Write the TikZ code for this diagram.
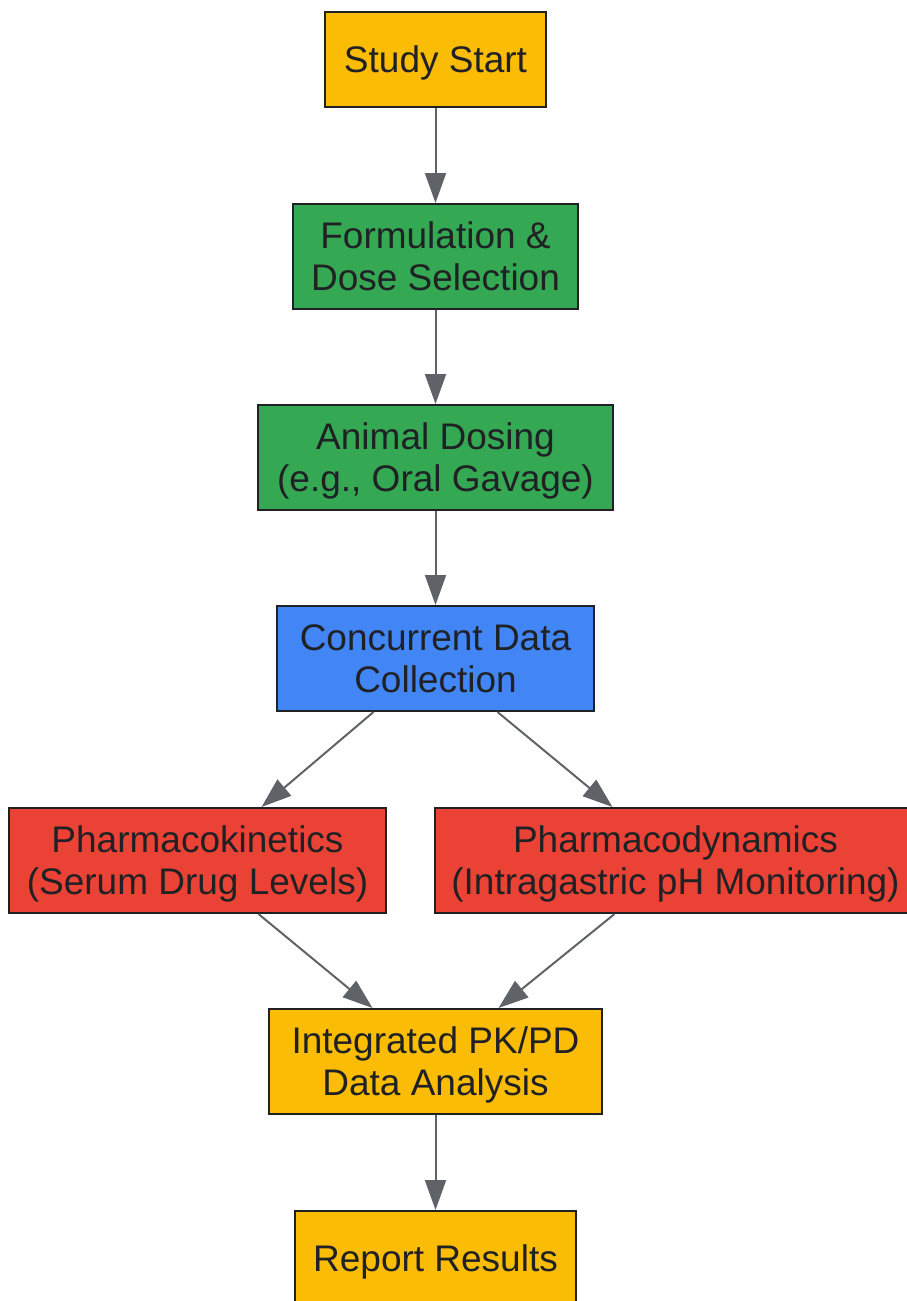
\documentclass[tikz,border=0pt]{standalone}
\usepackage{fontspec}
\setmainfont{Liberation Sans}
\usetikzlibrary{arrows.meta}
\definecolor{gyellow}{HTML}{FBBC05}
\definecolor{ggreen}{HTML}{34A853}
\definecolor{gblue}{HTML}{4285F4}
\definecolor{gred}{HTML}{EA4335}
\definecolor{edgegray}{HTML}{5F6368}
\definecolor{inkdark}{HTML}{202124}
\begin{document}
\begin{tikzpicture}[x=1pt,y=-1pt,
  box/.style={draw=inkdark,line width=2pt,text=inkdark,align=center,inner sep=0pt,
    text depth=0pt,font=\fontsize{37}{42}\selectfont},
  flow/.style={draw=edgegray,line width=2pt,-{Triangle[length=30pt,width=21pt]}}]
\useasboundingbox (0,0) rectangle (907,1301);
\node [box,fill=gyellow,minimum width=221pt,minimum height=95pt] (start) at (435.5,59.5) {Study Start};
\node [box,fill=ggreen,minimum width=285pt,minimum height=105pt] (form) at (435.5,256.5) {Formulation \&\\Dose Selection};
\node [box,fill=ggreen,minimum width=355pt,minimum height=105pt] (dosing) at (435.5,457.5) {Animal Dosing\\(e.g., Oral Gavage)};
\node [box,fill=gblue,minimum width=317pt,minimum height=105pt] (collect) at (435.5,658.5) {Concurrent Data\\Collection};
\node [box,fill=gred,minimum width=377pt,minimum height=105pt] (pk) at (197.5,860.5) {Pharmacokinetics\\(Serum Drug Levels)};
\node [box,fill=gred,minimum width=481pt,minimum height=105pt] (pd) at (675.5,860.5) {Pharmacodynamics\\(Intragastric pH Monitoring)};
\node [box,fill=gyellow,minimum width=333pt,minimum height=105pt] (integ) at (435.5,1061.5) {Integrated PK/PD\\Data Analysis};
\node [box,fill=gyellow,minimum width=281pt,minimum height=95pt] (report) at (435.5,1258.5) {Report Results};
% connectors
\draw [flow] (start) -- (form);
\draw [flow] (form) -- (dosing);
\draw [flow] (dosing) -- (collect);
\draw [flow] ([xshift=-62pt]collect.south) -- ([xshift=64pt]pk.north);
\draw [flow] ([xshift=62pt]collect.south) -- ([xshift=-63pt]pd.north);
\draw [flow] ([xshift=61pt]pk.south) -- ([xshift=-63pt]integ.north);
\draw [flow] ([xshift=-61pt]pd.south) -- ([xshift=63pt]integ.north);
\draw [flow] (integ) -- (report);
\end{tikzpicture}
\end{document}
